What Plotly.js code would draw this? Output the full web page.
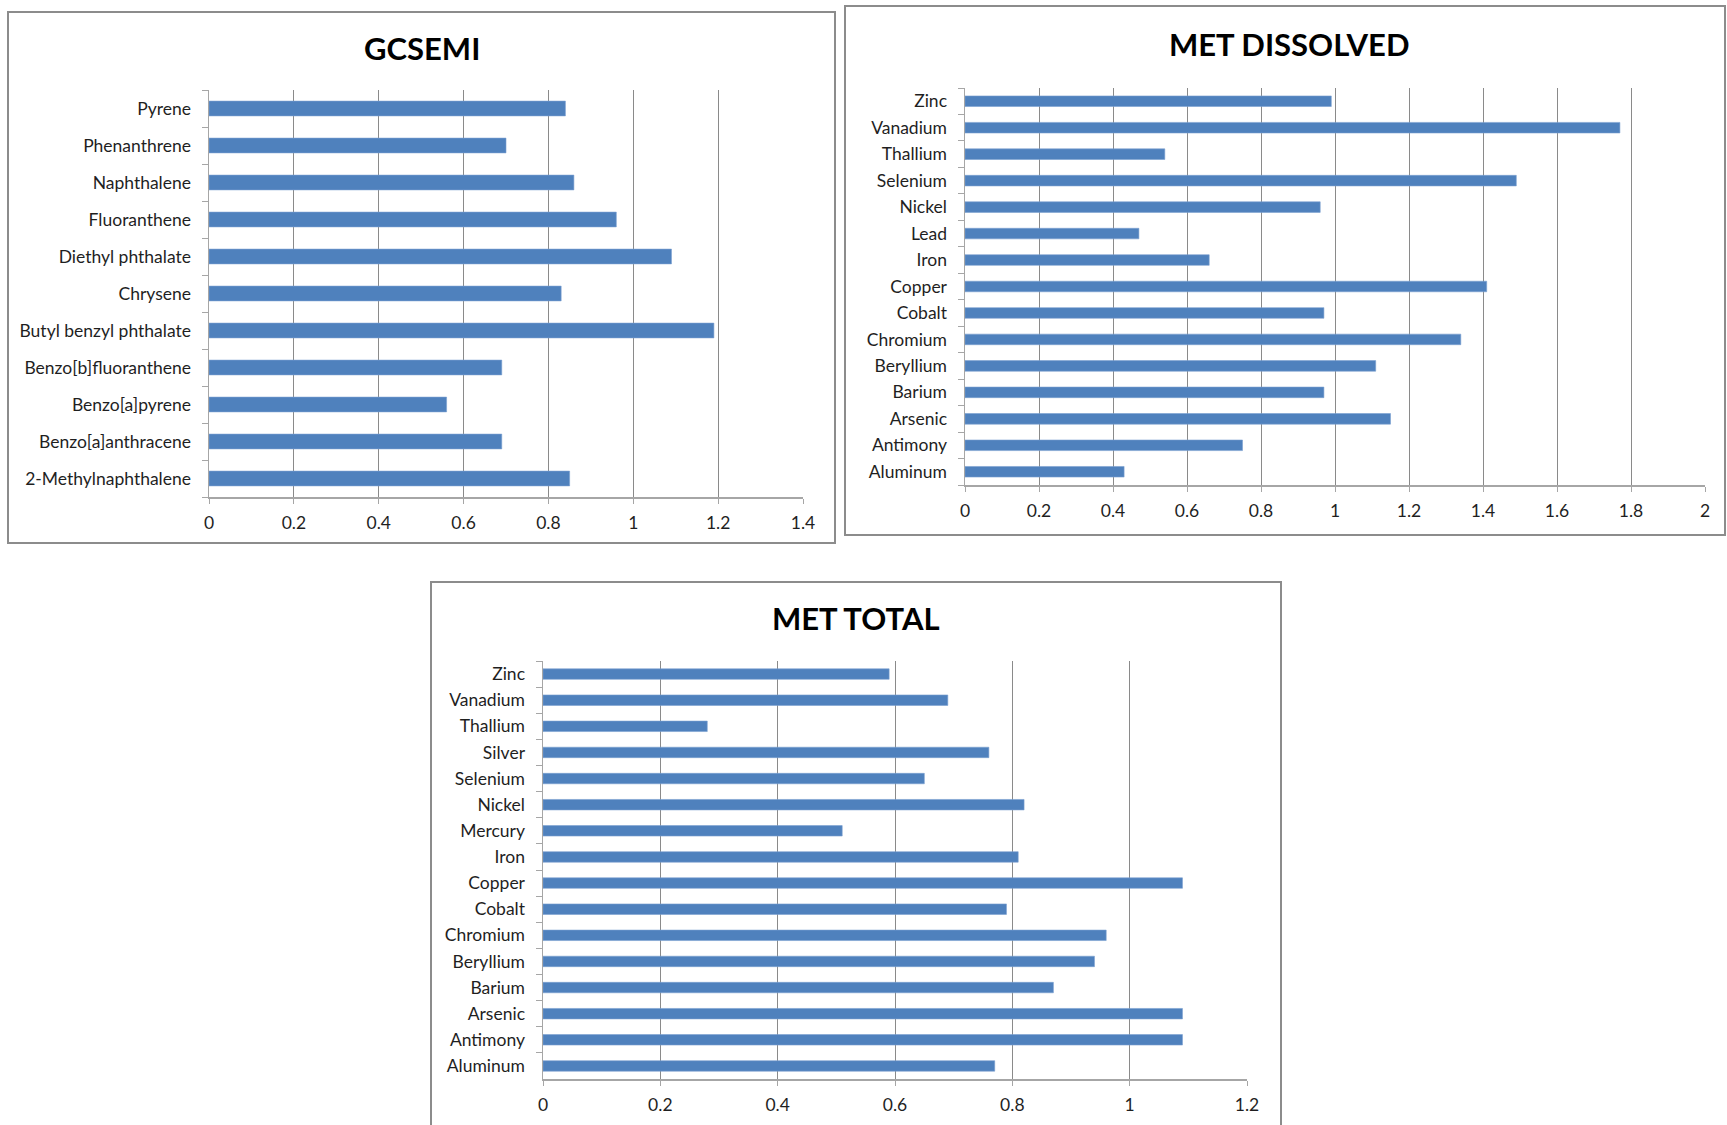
<!DOCTYPE html>
<html>
<head>
<meta charset="utf-8">
<script src="https://cdn.plot.ly/plotly-3.0.1.min.js"></script>
<style>
  html, body { margin: 0; padding: 0; background: #ffffff; }
  #chart { width: 1727px; height: 1125px; }
</style>
</head>
<body>
<div id="chart"></div>
<script>
// Semi-volatile organics (GC/MS) ratios
const gcsemiNames = ['2-Methylnaphthalene', 'Benzo[a]anthracene', 'Benzo[a]pyrene', 'Benzo[b]fluoranthene',
  'Butyl benzyl phthalate', 'Chrysene', 'Diethyl phthalate', 'Fluoranthene', 'Naphthalene', 'Phenanthrene', 'Pyrene'];
const gcsemiValues = [0.85, 0.69, 0.56, 0.69, 1.19, 0.83, 1.09, 0.96, 0.86, 0.70, 0.84];

// Dissolved metals ratios
const metDissolvedNames = ['Aluminum', 'Antimony', 'Arsenic', 'Barium', 'Beryllium', 'Chromium', 'Cobalt', 'Copper',
  'Iron', 'Lead', 'Nickel', 'Selenium', 'Thallium', 'Vanadium', 'Zinc'];
const metDissolvedValues = [0.43, 0.75, 1.15, 0.97, 1.11, 1.34, 0.97, 1.41, 0.66, 0.47, 0.96, 1.49, 0.54, 1.77, 0.99];

// Total metals ratios
const metTotalNames = ['Aluminum', 'Antimony', 'Arsenic', 'Barium', 'Beryllium', 'Chromium', 'Cobalt', 'Copper',
  'Iron', 'Mercury', 'Nickel', 'Selenium', 'Silver', 'Thallium', 'Vanadium', 'Zinc'];
const metTotalValues = [0.77, 1.09, 1.09, 0.87, 0.94, 0.96, 0.79, 1.09, 0.81, 0.51, 0.82, 0.65, 0.76, 0.28, 0.69, 0.59];

const panelTitles = ['GCSEMI', 'MET DISSOLVED', 'MET TOTAL'];

const W = 1727, H = 1125;
const px = x => x / W;
const py = y => 1 - y / H;

const FONT = 'Lato, "Open Sans", "Liberation Sans", sans-serif';
const BAR = '#4F81BD';
const GRID = '#8a8a8a';
const AXIS = '#a6a6a6';
const TEXT = '#1f1f1f';
const LABEL_SIZE = 17.5;

// plot-area boxes in page pixels: [left, top, right, bottom]
const boxes = [
  [209, 90, 803, 497],
  [965, 88, 1705, 485],
  [543, 661, 1247, 1079]
];
// outer chart frames in page pixels
const frames = [
  [8, 12, 835, 543],
  [845, 6, 1725, 535],
  [431, 582, 1281, 1135]
];
const titlePos = [[422, 48], [1289, 44], [856, 618]];
const xMax = [1.4, 2, 1.2];

const series = [
  [gcsemiNames, gcsemiValues],
  [metDissolvedNames, metDissolvedValues],
  [metTotalNames, metTotalValues]
];

const data = series.map((s, i) => ({
  type: 'bar',
  orientation: 'h',
  y: s[0],
  x: s[1],
  xaxis: i === 0 ? 'x' : 'x' + (i + 1),
  yaxis: i === 0 ? 'y' : 'y' + (i + 1),
  marker: { color: BAR, line: { color: '#7aa0d0', width: 0.6 } },
  hoverinfo: 'x+y',
  showlegend: false
}));

const layout = {
  width: W,
  height: H,
  margin: { l: 0, r: 0, t: 0, b: 0 },
  paper_bgcolor: '#ffffff',
  plot_bgcolor: '#ffffff',
  font: { family: FONT, size: LABEL_SIZE, color: TEXT },
  bargap: 0.6,
  shapes: [],
  annotations: []
};

boxes.forEach((b, i) => {
  const sfx = i === 0 ? '' : String(i + 1);
  const yName = i === 0 ? 'y' : 'y' + (i + 1);
  const xName = i === 0 ? 'x' : 'x' + (i + 1);
  layout['xaxis' + sfx] = {
    domain: [px(b[0]), px(b[2])],
    anchor: yName,
    range: [0, xMax[i]],
    dtick: 0.2,
    tick0: 0,
    showgrid: true,
    gridcolor: GRID,
    gridwidth: 1,
    zeroline: false,
    showline: true,
    linecolor: AXIS,
    linewidth: 1.5,
    ticks: 'outside',
    ticklen: 5,
    tickcolor: AXIS,
    ticklabelstandoff: 4,
    tickfont: { family: FONT, size: LABEL_SIZE, color: TEXT },
    fixedrange: true
  };
  layout['yaxis' + sfx] = {
    domain: [py(b[3]), py(b[1])],
    anchor: xName,
    type: 'category',
    showgrid: false,
    zeroline: false,
    showline: true,
    linecolor: AXIS,
    linewidth: 1.5,
    ticks: 'outside',
    tickson: 'boundaries',
    ticklen: 6,
    tickcolor: AXIS,
    ticklabelstandoff: 13,
    tickfont: { family: FONT, size: LABEL_SIZE, color: TEXT },
    fixedrange: true
  };
});

frames.forEach(f => {
  layout.shapes.push({
    type: 'rect', xref: 'paper', yref: 'paper',
    x0: px(f[0]), x1: px(f[2]), y0: py(f[3]), y1: py(f[1]),
    line: { color: '#8c8c8c', width: 2 },
    fillcolor: 'rgba(0,0,0,0)',
    layer: 'below'
  });
});

titlePos.forEach((p, i) => {
  layout.annotations.push({
    xref: 'paper', yref: 'paper',
    x: px(p[0]), y: py(p[1]),
    xanchor: 'center', yanchor: 'middle',
    showarrow: false,
    text: '<b>' + panelTitles[i] + '</b>',
    font: { family: FONT, size: 31, color: '#000000' }
  });
});

Plotly.newPlot('chart', data, layout, { displayModeBar: false, staticPlot: true });
</script>
</body>
</html>
